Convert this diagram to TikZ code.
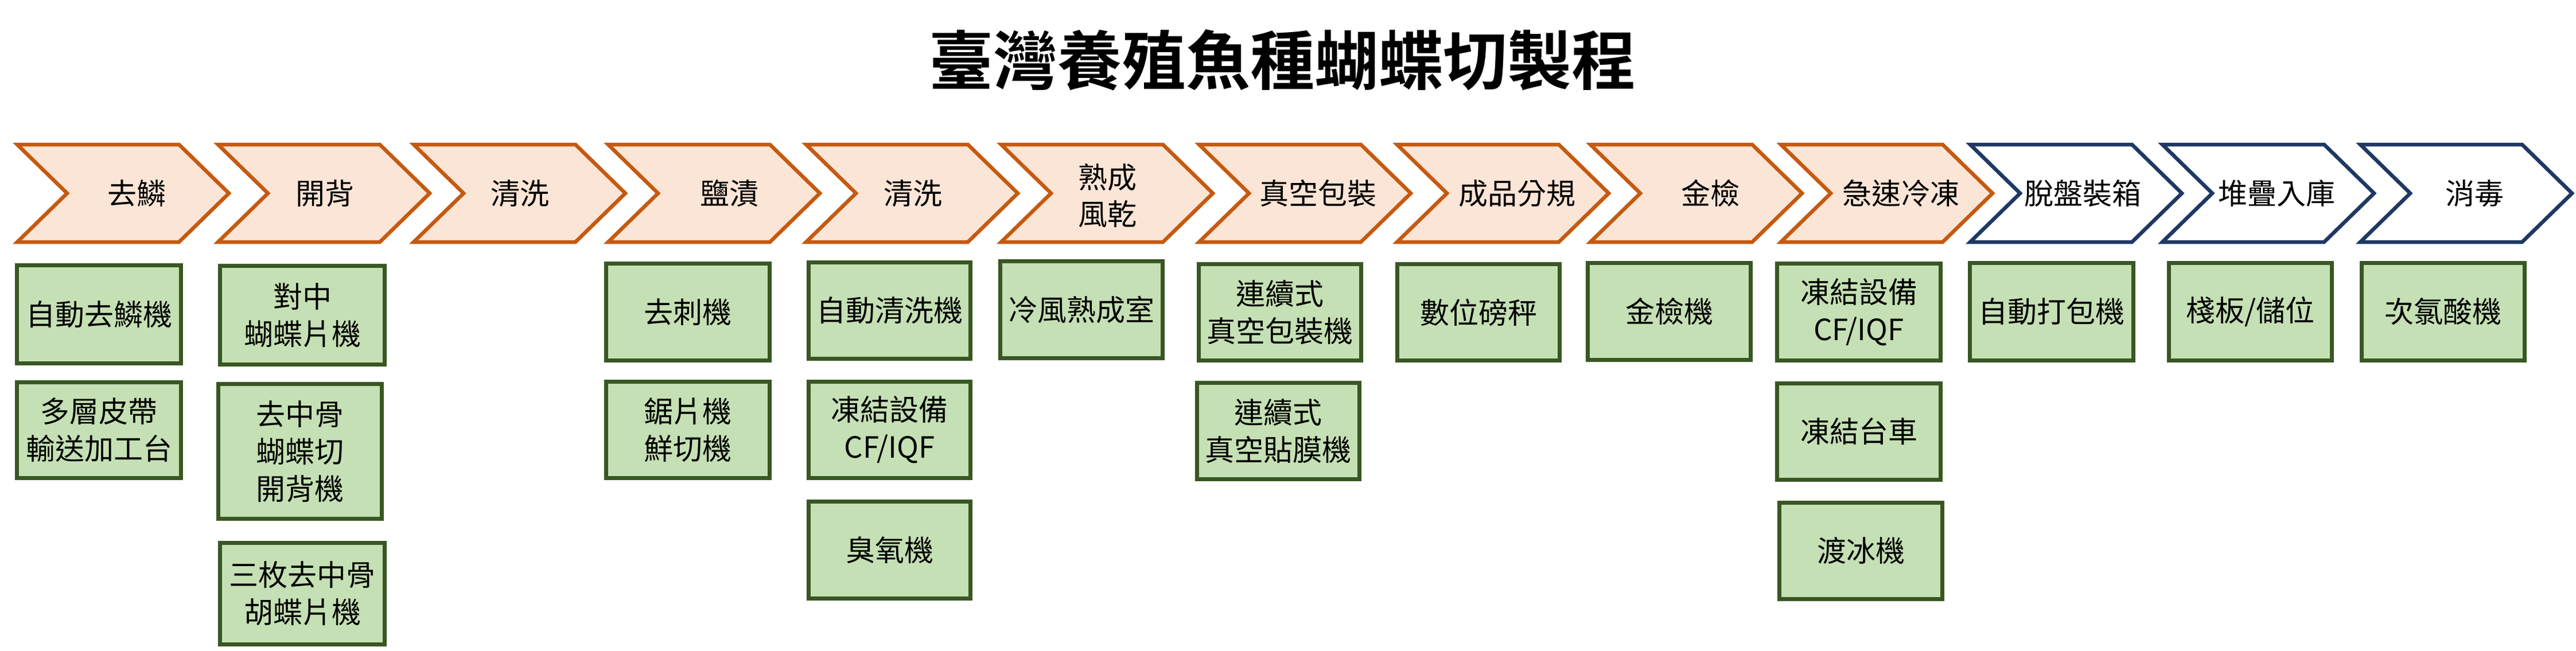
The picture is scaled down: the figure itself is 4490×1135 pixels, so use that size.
\documentclass[tikz,border=0pt]{standalone}
\usepackage{fontspec}
\setmainfont{Noto Sans CJK TC}[BoldFont={Noto Sans CJK TC Bold}]
\definecolor{peach}{HTML}{FBE5D6}
\definecolor{rust}{HTML}{C55A11}
\definecolor{navy}{HTML}{1F3864}
\definecolor{leaf}{HTML}{C5E0B4}
\definecolor{moss}{HTML}{385723}
\newcommand\mkchev[2]{%
  \draw[#1] (#2+8,252) -- (#2+290,252) -- (#2+377,337) -- (#2+290,422) -- (#2+8,422) -- (#2+95,337) -- cycle;}
\newcommand\mkbox[6]{%
  \node[mach,minimum width={#4-#2-7},minimum height={#5-#3-7}] (#1) at ({(#2+#4)/2},{(#3+#5)/2}) {#6};}
\begin{document}
\begin{tikzpicture}[x=1pt,y=-1pt,
  chevo/.style={draw=rust,fill=peach,line width=6.5pt,miter limit=10},
  chevb/.style={draw=navy,fill=white,line width=6.5pt,miter limit=10},
  lbl/.style={font=\fontsize{51}{64}\selectfont,align=center,inner sep=0pt},
  mach/.style={draw=moss,fill=leaf,line width=7pt,inner sep=0pt,font=\fontsize{51}{65}\selectfont,align=center}]
\useasboundingbox (0,0) rectangle (4490,1135);
\node[font=\fontsize{112}{120}\selectfont\bfseries,inner sep=0pt] (title) at (2235,105) {臺灣養殖魚種蝴蝶切製程};
% chevrons
\mkchev{chevo}{22}
\mkchev{chevo}{372}
\mkchev{chevo}{713}
\mkchev{chevo}{1052}
\mkchev{chevo}{1397}
\mkchev{chevo}{1737}
\mkchev{chevo}{2082}
\mkchev{chevo}{2427}
\mkchev{chevo}{2764}
\mkchev{chevo}{3096}
\mkchev{chevb}{3426}
\mkchev{chevb}{3761}
\mkchev{chevb}{4106}
\node[lbl] (s1) at (238,337) {去鱗};
\node[lbl] (s2) at (566,337) {開背};
\node[lbl] (s3) at (906,337) {清洗};
\node[lbl] (s4) at (1271,337) {鹽漬};
\node[lbl] (s5) at (1591,337) {清洗};
\node[lbl] (s6) at (1930,341) {熟成\\風乾};
\node[lbl] (s7) at (2297,337) {真空包裝};
\node[lbl] (s8) at (2644,337) {成品分規};
\node[lbl] (s9) at (2981,337) {金檢};
\node[lbl] (s10) at (3313,337) {急速冷凍};
\node[lbl] (s11) at (3630,337) {脫盤裝箱};
\node[lbl] (s12) at (3968,337) {堆疊入庫};
\node[lbl] (s13) at (4313,337) {消毒};
% machine boxes
\mkbox{m1a}{26}{459}{319}{637}{自動去鱗機}
\mkbox{m1b}{26}{663}{319}{837}{多層皮帶\\輸送加工台}
\mkbox{m2a}{380}{460}{674}{639}{對中\\蝴蝶片機}
\mkbox{m2b}{377}{666}{669}{908}{去中骨\\蝴蝶切\\開背機}
\mkbox{m2c}{380}{943}{674}{1127}{三枚去中骨\\胡蝶片機}
\mkbox{m4a}{1053}{456}{1345}{632}{去刺機}
\mkbox{m4b}{1053}{662}{1345}{837}{鋸片機\\鮮切機}
\mkbox{m5a}{1406}{454}{1695}{629}{自動清洗機}
\mkbox{m5b}{1406}{662}{1695}{837}{凍結設備\\CF/IQF}
\mkbox{m5c}{1406}{871}{1695}{1047}{臭氧機}
\mkbox{m6a}{1740}{452}{2030}{628}{冷風熟成室}
\mkbox{m7a}{2086}{457}{2376}{632}{連續式\\真空包裝機}
\mkbox{m7b}{2083}{664}{2373}{839}{連續式\\真空貼膜機}
\mkbox{m8a}{2432}{457}{2722}{632}{數位磅秤}
\mkbox{m9a}{2764}{455}{3055}{631}{金檢機}
\mkbox{m10a}{3094}{456}{3386}{632}{凍結設備\\CF/IQF}
\mkbox{m10b}{3094}{665}{3386}{840}{凍結台車}
\mkbox{m10c}{3098}{873}{3389}{1048}{渡冰機}
\mkbox{m11a}{3430}{455}{3722}{632}{自動打包機}
\mkbox{m12a}{3777}{455}{4068}{632}{棧板/儲位}
\mkbox{m13a}{4113}{455}{4404}{632}{次氯酸機}
\end{tikzpicture}
\end{document}
